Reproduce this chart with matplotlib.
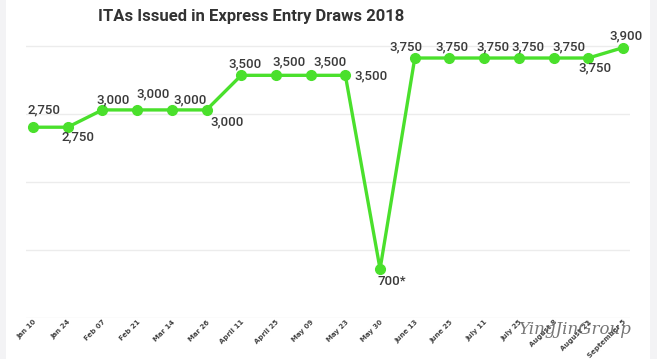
import matplotlib.pyplot as plt
from matplotlib.patches import Rectangle

dates = ["Jan 10", "Jan 24", "Feb 07", "Feb 21", "Mar 14", "Mar 26",
         "April 11", "April 25", "May 09", "May 23", "May 30", "June 13",
         "June 25", "July 11", "July 25", "August 8", "August 22", "September 5"]
itas = [2750, 2750, 3000, 3000, 3000, 3000, 3500, 3500, 3500, 3500,
        700, 3750, 3750, 3750, 3750, 3750, 3750, 3900]
labels = ["2,750", "2,750", "3,000", "3,000", "3,000", "3,000", "3,500",
          "3,500", "3,500", "3,500", "700*", "3,750", "3,750", "3,750",
          "3,750", "3,750", "3,750", "3,900"]

# label offsets in pixels (dx, dy), dy up
offsets = [(11, 17), (10, -10), (11, 10), (16, 16), (18, 10), (21, -12),
           (4, 11), (13, 13), (19, 13), (26, -1), (12, -12), (-9, 11),
           (3, 11), (9, 11), (9, 11), (15, 11), (7, -10), (3, 12)]

green = "#4ae02c"
text_col = "#3a3a3a"

fig = plt.figure(figsize=(6.57, 3.59), dpi=100)
fig.patch.set_facecolor("#f3f3f5")
fig.patches.append(Rectangle((6 / 657, 0), 644 / 657, 1, transform=fig.transFigure,
                             facecolor="white", edgecolor="none", zorder=-5))

ax = fig.add_axes([26 / 657, 41.5 / 359, 604 / 657, 283.7 / 359])
ax.set_facecolor("none")
x = list(range(len(dates)))
ax.plot(x, itas, color=green, lw=2.4, marker="o", ms=7, zorder=3)

for xi, v, lab, (dx, dy) in zip(x, itas, labels, offsets):
    ax.annotate(lab, (xi, v), xytext=(dx, dy), textcoords="offset pixels",
                ha="center", va="center", fontsize=9.5, color=text_col,
                family="Roboto", fontweight="medium", zorder=4)

ax.set_xlim(-0.2, 17.2)
ax.set_ylim(0, 4100)
# gridlines as drawn in the source chart
ax.set_yticks([0, 982, 1964, 2946, 3928])
ax.yaxis.grid(True, color="#ececec", lw=1)
ax.set_axisbelow(True)
ax.tick_params(axis="y", length=0, labelleft=False)
ax.set_xticks(x)
ax.set_xticklabels(dates, rotation=45, ha="right", rotation_mode="anchor",
                   fontsize=5, fontweight="bold", color="#444444")
ax.tick_params(axis="x", length=0, pad=1)
for s in ax.spines.values():
    s.set_visible(False)

fig.text(251 / 657, 1 - 17 / 359, "ITAs Issued in Express Entry Draws 2018",
         ha="center", va="center", fontsize=12, family="Roboto",
         fontweight="bold", color="#333333")

fig.text(575 / 657, 1 - 330 / 359, "YingJinGroup", ha="center", va="center",
         fontsize=12, family="DejaVu Serif", style="italic", color="#555555",
         alpha=0.8)

fig.savefig("out.png", dpi=100, facecolor=fig.get_facecolor())
